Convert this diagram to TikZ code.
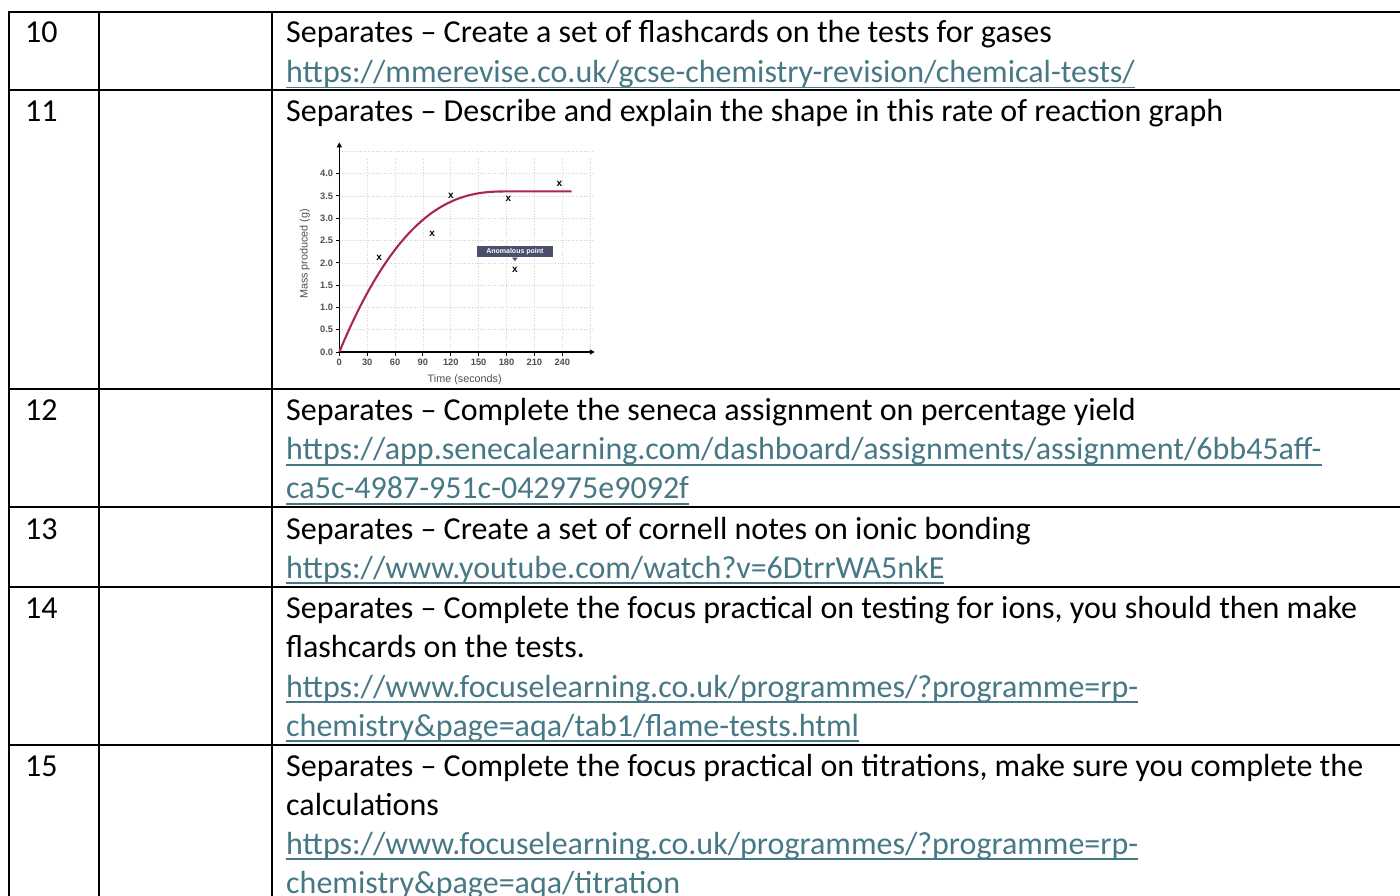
\documentclass[tikz,border=0pt]{standalone}
\usepackage{fontspec}
\setmainfont{Carlito}
\newfontfamily\gf{Liberation Sans}
\usetikzlibrary{arrows.meta}
\definecolor{linkc}{RGB}{70,120,134}
\definecolor{curvec}{RGB}{168,36,90}
\definecolor{boxc}{RGB}{75,79,107}
\definecolor{axc}{RGB}{80,80,80}
\newcommand\lnk[1]{\setbox0\hbox{#1}\rlap{\color{linkc}\rule[-6pt]{\wd0}{1.8pt}}\box0}
\tikzset{
  grid line/.style={line width=2.3pt, line cap=rect},
  txt/.style={anchor=base west, inner sep=0pt, font=\fontsize{32}{39}\selectfont},
  lk/.style={txt, text=linkc},
  gtick/.style={font=\gf\bfseries\fontsize{9.3}{10}\selectfont, text=axc, inner sep=0pt},
  glab/.style={font=\gf\fontsize{10.8}{11}\selectfont, text=axc, inner sep=0pt},
  mk/.style={font=\gf\bfseries\fontsize{10}{10}\selectfont, inner sep=0pt},
  gdot/.style={gray!35, line width=0.6pt, dotted}
}
\begin{document}
\begin{tikzpicture}[x=1pt,y=-1pt]
\useasboundingbox (0,0) rectangle (1400,896);
% table lines
\foreach \yy in {12,90,389,507,587,745}
  \draw[grid line] (9,\yy) -- (1420,\yy);
\foreach \xx in {9,99,272}
  \draw[grid line] (\xx,12) -- (\xx,920);
% numbers
\node[txt] (n10) at (25,43) {10};
\node[txt] (n11) at (25,122) {11};
\node[txt] (n12) at (25,420) {12};
\node[txt] (n13) at (25,539) {13};
\node[txt] (n14) at (25,618) {14};
\node[txt] (n15) at (25,776) {15};
% row 10
\node[txt] (t10a) at (286,43) {Separates – Create a set of flashcards on the tests for gases};
\node[lk] (t10b) at (286,82.5) {\lnk{https://mmerevise.co.uk/gcse-chemistry-revision/chemical-tests/}};
% row 11
\node[txt] (t11a) at (286,122) {Separates – Describe and explain the shape in this rate of reaction graph};
% row 12
\node[txt] (t12a) at (286,420) {Separates – Complete the seneca assignment on percentage yield};
\node[lk] (t12b) at (286,459.5) {\lnk{https://app.senecalearning.com/dashboard/assignments/assignment/6bb45aff-}};
\node[lk] (t12c) at (286,498.5) {\lnk{ca5c-4987-951c-042975e9092f}};
% row 13
\node[txt] (t13a) at (286,539) {Separates – Create a set of cornell notes on ionic bonding};
\node[lk] (t13b) at (286,578) {\lnk{https://www.youtube.com/watch?v=6DtrrWA5nkE}};
% row 14
\node[txt] (t14a) at (286,618) {Separates – Complete the focus practical on testing for ions, you should then make};
\node[txt] (t14b) at (286,657) {flashcards on the tests.};
\node[lk] (t14c) at (286,697) {\lnk{https://www.focuselearning.co.uk/programmes/?programme=rp-}};
\node[lk] (t14d) at (286,736) {\lnk{chemistry\&page=aqa/tab1/flame-tests.html}};
% row 15
\node[txt] (t15a) at (286,776) {Separates – Complete the focus practical on titrations, make sure you complete the};
\node[txt] (t15b) at (286,815) {calculations};
\node[lk] (t15c) at (286,854) {\lnk{https://www.focuselearning.co.uk/programmes/?programme=rp-}};
\node[lk] (t15d) at (286,893) {\lnk{chemistry\&page=aqa/titration}};
% graph
\begin{scope}[shift={(339.3,352)}, x=0.929pt, y=44.6pt]
  \foreach \t in {30,60,...,270} \draw[gdot] (\t,0) -- (\t,4.35);
  \foreach \m in {0.5,1,...,4.5} \draw[gdot] (0,\m) -- (272,\m);
  \coordinate (o) at (0,0);
  \coordinate (ytop) at (0,4.7);
  \coordinate (xend) at (275,0);
  \draw[line width=1.2pt, -{Triangle[length=5pt,width=5pt]}] (o) -- (ytop);
  \draw[line width=1.2pt, -{Triangle[length=5pt,width=5pt]}] (o) -- (xend);
  \foreach \m in {0.0,0.5,1.0,1.5,2.0,2.5,3.0,3.5,4.0} {
    \draw[line width=1pt] (-3.5,\m) -- (0,\m);
    \node[gtick, anchor=east] (yl\m) at (-6.5,\m) {\m};
  }
  \foreach \t in {0,30,...,240} {
    \draw[line width=1pt] (\t,0) -- (\t,-0.08);
    \node[gtick, anchor=north] (xl\t) at (\t,-0.15) {\t};
  }
  \node[glab, rotate=90] (ylab) at (-37,2.2) {Mass produced (g)};
  \node[glab] (xlab) at (135,-0.63) {Time (seconds)};
  \draw[curvec, line width=2.1pt] plot[domain=0:180, samples=70, smooth] (\x, {3.6*(1-(1-\x/180)^2*sqrt(1-\x/180))}) -- (250,3.6);
  \node[mk] (p1) at (43,2.1) {x};
  \node[mk] (p2) at (100,2.65) {x};
  \node[mk] (p3) at (120,3.5) {x};
  \node[mk] (p4) at (182,3.44) {x};
  \node[mk] (p5) at (189,1.85) {x};
  \node[mk] (p6) at (237,3.76) {x};
  \node[fill=boxc, text=white, font=\gf\bfseries\fontsize{7}{7}\selectfont, inner xsep=2pt, inner ysep=2.4pt, minimum width=76pt] (anom) at (189,2.25) {Anomalous point};
  \fill[boxc] ([xshift=-3pt]anom.south -| p5) -- ([xshift=3pt]anom.south -| p5) -- ([yshift=-3.5pt]anom.south -| p5) -- cycle;
\end{scope}
\end{tikzpicture}
\end{document}
